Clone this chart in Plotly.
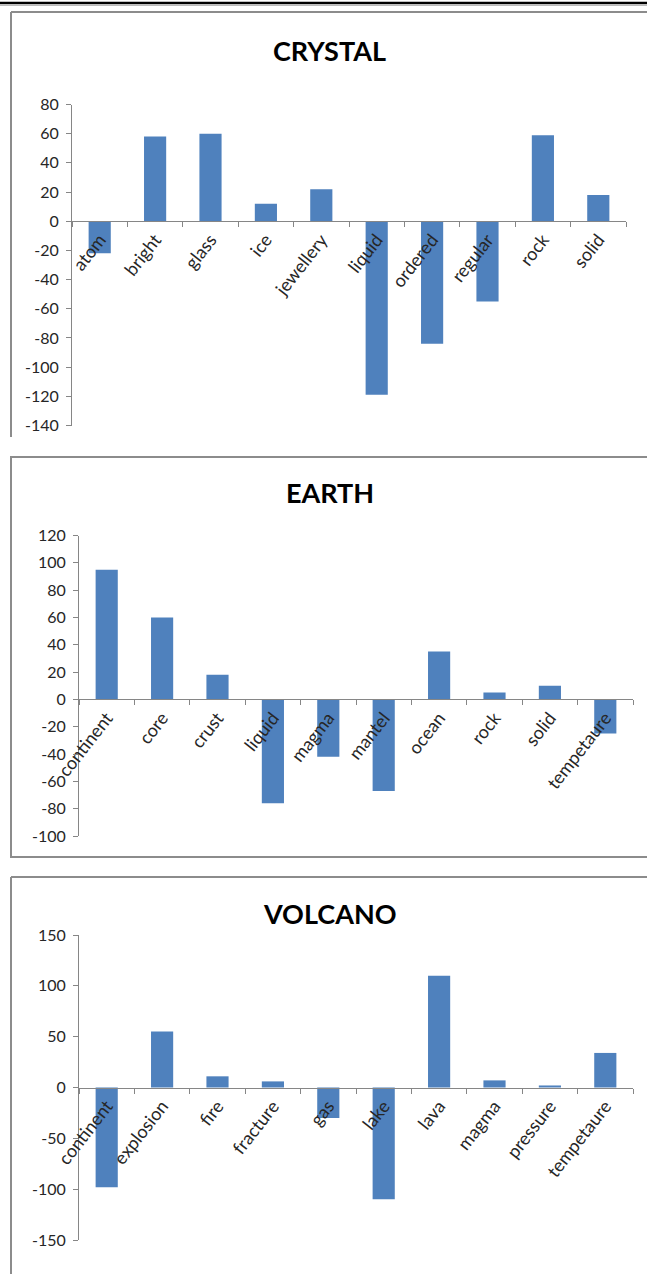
import plotly.graph_objects as go

W, H = 647, 1274

crystal_words = ["atom", "bright", "glass", "ice", "jewellery", "liquid", "ordered", "regular", "rock", "solid"]
crystal_vals = [-22, 58, 60, 12, 22, -119, -84, -55, 59, 18]

earth_words = ["continent", "core", "crust", "liquid", "magma", "mantel", "ocean", "rock", "solid", "tempetaure"]
earth_vals = [95, 60, 18, -76, -42, -67, 35, 5, 10, -25]

volcano_words = ["continent", "explosion", "fire", "fracture", "gas", "lake", "lava", "magma", "pressure", "tempetaure"]
volcano_vals = [-98, 55, 11, 6, -30, -110, 110, 7, 2, 34]

titles = ["CRYSTAL", "EARTH", "VOLCANO"]
y_ranges = [(-140, 80, 20), (-100, 120, 20), (-150, 150, 50)]

# pixel geometry of each panel: x-left, x-right, y-top(px), y-bottom(px)
geo = [(72, 626, 104.5, 425.5), (79, 633, 535.5, 836), (79, 633, 935, 1240)]
title_pos = [(330, 50), (330, 493), (330, 913)]

BAR = "#4F81BD"
AX = "#868686"
TXT = "#262626"
FONT = "Lato, Carlito, 'Open Sans', sans-serif"


def fx(px):
    return px / W


def fy(py):
    return 1 - py / H


fig = go.Figure()
layout = dict(
    template="none",
    width=W, height=H, margin=dict(l=0, r=0, t=0, b=0, pad=0, autoexpand=False),
    paper_bgcolor="white", plot_bgcolor="rgba(0,0,0,0)",
    showlegend=False,
    font=dict(family=FONT, size=16, color=TXT),
)

data = [(crystal_words, crystal_vals), (earth_words, earth_vals), (volcano_words, volcano_vals)]
annotations = []
for i, ((words, vals), (lo, hi, dt), (xl, xr, yt, yb), title, (tx, ty)) in enumerate(
        zip(data, y_ranges, geo, titles, title_pos)):
    n = "" if i == 0 else str(i + 1)
    fig.add_trace(go.Bar(x=words, y=vals, marker=dict(color=BAR, line=dict(width=0)),
                         width=0.4, xaxis="x" + n, yaxis="y" + n))
    zero_py = yt + (hi - 0) / (hi - lo) * (yb - yt)
    tickvals = list(range(lo, hi + 1, dt))
    layout["xaxis" + n] = dict(
        domain=[fx(xl), fx(xr)], anchor="free", position=fy(zero_py), automargin=False,
        type="category", range=[-0.5, len(words) - 0.5],
        showline=True, linecolor=AX, linewidth=1,
        ticks="outside", tickson="boundaries", ticklen=5, tickcolor=AX,
        tickangle=-52, showgrid=False, zeroline=False,
        tickfont=dict(family=FONT, size=18, color=TXT),
    )
    layout["yaxis" + n] = dict(
        domain=[fy(yb), fy(yt)], anchor="x" + n, range=[lo, hi], automargin=False,
        tickmode="array", tickvals=tickvals, ticktext=[str(v) for v in tickvals],
        showline=True, linecolor=AX, linewidth=1,
        ticks="outside", ticklen=5, tickcolor=AX, ticklabelstandoff=4,
        showgrid=False, zeroline=False,
        tickfont=dict(family=FONT, size=16, color=TXT),
    )
    annotations.append(dict(text="<b>" + title + "</b>", x=fx(tx), y=fy(ty), xref="paper", yref="paper",
                            xanchor="center", yanchor="middle", showarrow=False,
                            font=dict(family=FONT, size=27, color="black")))

BORDER = "#8C8C8C"
shapes = [
    # page line at the top
    dict(type="line", xref="paper", yref="paper", x0=0, x1=1, y0=fy(3), y1=fy(3),
         line=dict(color="black", width=2.5)),
    dict(type="line", xref="paper", yref="paper", x0=0, x1=1, y0=fy(5.5), y1=fy(5.5),
         line=dict(color="#BBBBBB", width=1)),
    # panel 1 (top + left only)
    dict(type="line", xref="paper", yref="paper", x0=fx(11), x1=1, y0=fy(12), y1=fy(12),
         line=dict(color=BORDER, width=2)),
    dict(type="line", xref="paper", yref="paper", x0=fx(11), x1=fx(11), y0=fy(12), y1=fy(437),
         line=dict(color=BORDER, width=2)),
    # panel 2
    dict(type="rect", xref="paper", yref="paper", x0=fx(11), x1=fx(660), y0=fy(457), y1=fy(857),
         line=dict(color=BORDER, width=2)),
    # panel 3 (top + left)
    dict(type="line", xref="paper", yref="paper", x0=fx(11), x1=1, y0=fy(877), y1=fy(877),
         line=dict(color=BORDER, width=2)),
    dict(type="line", xref="paper", yref="paper", x0=fx(11), x1=fx(11), y0=fy(877), y1=0,
         line=dict(color=BORDER, width=2)),
]
layout["shapes"] = shapes
layout["annotations"] = annotations
fig.update_layout(**layout)
fig.write_html("out.html", config={"displayModeBar": False},
               post_script="document.body.style.margin='0';document.body.style.overflow='hidden';")
